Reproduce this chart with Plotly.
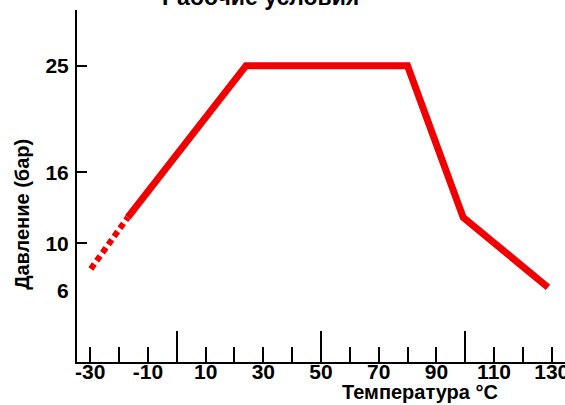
import plotly.graph_objects as go

# Data
solid_temp = [-17, 24, 80, 99.3, 128.7]
solid_pressure = [12.2, 25, 25, 12.2, 6.3]
dashed_temp = [-29.8, -17]
dashed_pressure = [7.85, 12.2]

x_label_vals = list(range(-30, 131, 10))
x_label_text = [str(v) if (v + 30) % 20 == 0 else "" for v in x_label_vals]
x_long_ticks = [0, 50, 100]
y_tick_vals = [25, 16, 10]
y_label_vals = [25, 16, 10, 6]
y_label_text = ["25", "16", "10", "6"]

RED = "#f00000"
FONT = "Liberation Sans"
XR = [-34.6, 134.6]
YR = [0, 29.7]

fig = go.Figure()
fig.add_trace(go.Scatter(x=dashed_temp, y=dashed_pressure, mode="lines",
                         line=dict(color=RED, width=6, dash="6px,4px"),
                         showlegend=False, hoverinfo="skip"))
fig.add_trace(go.Scatter(x=solid_temp, y=solid_pressure, mode="lines",
                         line=dict(color=RED, width=7),
                         showlegend=False, hoverinfo="skip"))
# invisible trace for overlay axes (long ticks)
fig.add_trace(go.Scatter(x=[XR[0]], y=[YR[0]], xaxis="x2", yaxis="y2",
                         mode="markers", marker=dict(opacity=0),
                         showlegend=False, hoverinfo="skip"))

fig.update_layout(
    width=565, height=405,
    margin=dict(l=77, r=0, t=10, b=43),
    paper_bgcolor="white", plot_bgcolor="white",
    font=dict(family=FONT, color="black"),
    xaxis=dict(range=XR, showgrid=False, zeroline=False, automargin=False,
               showline=True, linecolor="black", linewidth=2,
               tickmode="array", tickvals=x_label_vals, ticktext=x_label_text,
               ticks="inside", ticklen=15, tickwidth=2, tickcolor="black",
               ticklabeloverflow="allow", ticklabelstandoff=-10,
               tickfont=dict(family=FONT, size=21, weight="bold", color="black")),
    xaxis2=dict(range=XR, overlaying="x", anchor="y", side="bottom", automargin=False,
                showgrid=False, zeroline=False, showline=False,
                tickmode="array", tickvals=x_long_ticks, showticklabels=False,
                ticks="inside", ticklen=31, tickwidth=2, tickcolor="black"),
    yaxis=dict(range=YR, showgrid=False, zeroline=False, automargin=False,
               showline=True, linecolor="black", linewidth=2,
               tickmode="array", tickvals=y_label_vals, ticktext=y_label_text,
               ticks="", ticklabelstandoff=2,
               tickfont=dict(family=FONT, size=21, weight="bold", color="black")),
    yaxis2=dict(range=YR, overlaying="y", anchor="x", side="left", automargin=False,
                showgrid=False, zeroline=False, showline=False,
                tickmode="array", tickvals=y_tick_vals, showticklabels=False,
                ticks="inside", ticklen=10, tickwidth=2, tickcolor="black"),
    annotations=[
        dict(text="Рабочие условия", xref="paper", yref="paper",
             x=0.377, y=0.993, xanchor="center", yanchor="bottom", showarrow=False,
             font=dict(family=FONT, size=23, weight="bold", color="black")),
        dict(text="Давление (бар)", xref="paper", yref="paper",
             x=-0.1127, y=0.418, xanchor="center", yanchor="middle", textangle=-90,
             showarrow=False,
             font=dict(family=FONT, size=20, weight="bold", color="black")),
        dict(text="Температура °C", xref="paper", yref="paper",
             x=0.703, y=-0.086, xanchor="center", yanchor="middle", showarrow=False,
             font=dict(family=FONT, size=20, weight="bold", color="black")),
    ],
)

fig.write_html("out.html", config={"displayModeBar": False},
               post_script="document.body.style.margin='0';document.body.style.overflow='hidden';")
